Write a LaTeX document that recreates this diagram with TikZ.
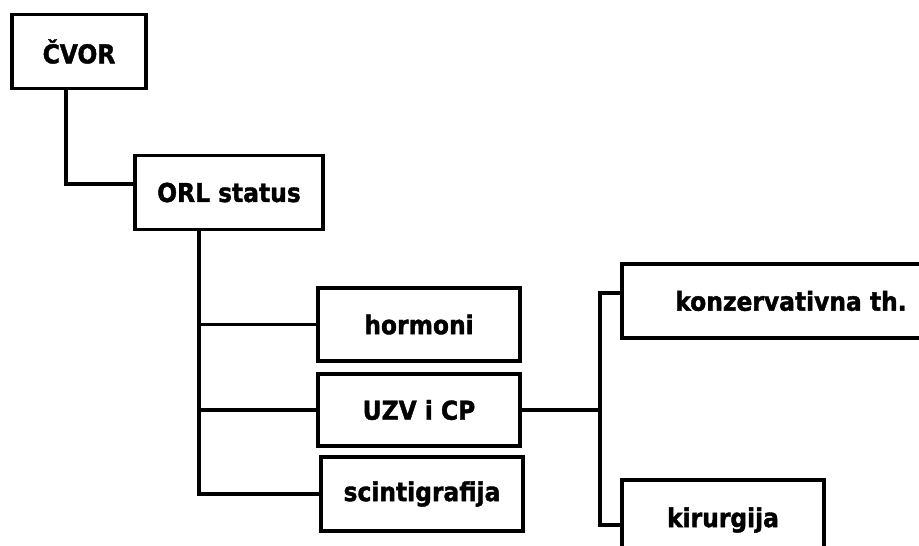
\documentclass[tikz,border=0pt]{standalone}
\usepackage{fontspec}
\setmainfont{DejaVu Sans Condensed}[BoldFeatures={FakeBold=1.5}]
\usepackage{tikz}
\usetikzlibrary{calc}
\usetikzlibrary{positioning}
\tikzstyle{block} = [rectangle, draw, fill=white, line width=3.8pt, draw=black,
 minimum height=74pt, font=\fontsize{26}{30}\selectfont\bfseries]
\tikzstyle{link} = [line width=3.5pt]

\begin{document}
\begin{tikzpicture}[x=1pt, y=-1pt]

\useasboundingbox (0,0) rectangle (919,546);
\clip (0,0) rectangle (919,546);

\node[block, minimum width=134pt](cvor) at (79,51.5){ČVOR};
\node[block, minimum width=188pt](orl) at (229,192.5){ORL status};

\node[block, minimum width=202pt, minimum height=73pt](horm) at (419,324.5){hormoni};
\node[block, minimum width=202pt, minimum height=72pt](uzv) at (419,410){UZV i CP};
\node[block, minimum width=202pt](scint) at (422,494){scintigrafija};

\node[block, minimum width=338pt](konz) at (791,301){konzervativna th.};
\node[block, minimum width=202pt, minimum height=80pt](kir) at (723,520){kirurgija};

% trunk lines
\draw[link] ($(cvor.south)+(-13,0)$) |- ($(orl.west)+(0,-8.5)$);
\coordinate (trunk) at ($(orl.south)+(-30,0)$);
\draw[link] (trunk) |- (scint.west);
\draw[link] (trunk |- horm.west) -- (horm.west);
\draw[link] (trunk |- uzv.west) -- (uzv.west);

\coordinate (fork) at ($(uzv.east)+(78,0)$);
\draw[link] (uzv.east) -- (fork);
\draw[link] (fork) |- ($(konz.west)+(0,-8)$);
\draw[link] (fork) |- ($(kir.west)+(0,5)$);

\end{tikzpicture}
\end{document}
